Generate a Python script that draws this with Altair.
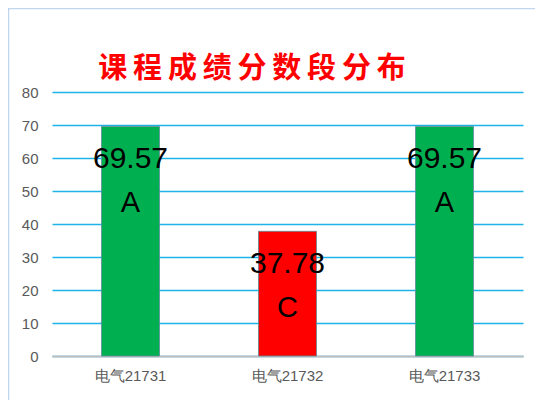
import altair as alt
import pandas as pd

classes = ["电气21731", "电气21732", "电气21733"]
scores = [69.57, 37.78, 69.57]
grades = ["A", "C", "A"]
bar_colors = ["#00B050", "#FF0000", "#00B050"]
y_ticks = [0, 10, 20, 30, 40, 50, 60, 70, 80]
title_text = "课程成绩分数段分布"

df = pd.DataFrame({"cls": classes, "score": scores, "grade": grades, "color": bar_colors})
df["label"] = df["score"].map(lambda v: f"{v:.2f}")

x = alt.X("cls:N", sort=classes, title=None,
          scale=alt.Scale(paddingInner=0, paddingOuter=0),
          axis=alt.Axis(labelAngle=0, labelColor="#595959", labelFontSize=15,
                        labelFont="Liberation Sans", ticks=False,
                        domainColor="#BFBFBF", domainWidth=2, labelPadding=12))
y = alt.Y("score:Q", title=None,
          scale=alt.Scale(domain=[0, 80]),
          axis=alt.Axis(values=y_ticks, labelColor="#595959", labelFontSize=15,
                        labelFont="Liberation Sans", ticks=False, domain=False,
                        labelOverlap=False,
                        gridColor="#1EB4EA", gridWidth=1.5, labelPadding=14))

base = alt.Chart(df)

one = pd.DataFrame({"t": ["\u2009".join(title_text)]})

frame = alt.Chart(one).mark_rect(
    fill=None, stroke="#7FB0E0", strokeDash=[1, 1], strokeWidth=1.5
).encode(x=alt.value(-43.5), x2=alt.value(520), y=alt.value(-83.5), y2=alt.value(330))

title = alt.Chart(one).mark_text(
    color="#FF0000", fontSize=29, font="Noto Sans CJK SC", fontWeight="bold",
    baseline="alphabetic", align="center"
).encode(x=alt.value(200), y=alt.value(-14), text="t:N")

bars = base.mark_bar(size=58, stroke="#5F8C9A", strokeWidth=1, strokeOpacity=0.8).encode(
    x=x, y=y, color=alt.Color("color:N", scale=None)
)

num = base.mark_text(baseline="middle", dy=33, fontSize=30, font="Liberation Sans",
                     color="black").encode(x=x, y=y, text="label:N")
grade = base.mark_text(baseline="middle", dy=77, fontSize=29, font="Liberation Sans",
                       color="black").encode(x=x, y=y, text="grade:N")

chart = alt.layer(frame, bars, num, grade, title).properties(
    width=471, height=264,
    autosize=alt.AutoSizeParams(type="none"),
    padding={"left": 44, "top": 84, "right": 12, "bottom": 50},
).configure_view(stroke=None)

chart.save("out.html", embed_options={"renderer": "svg", "actions": False})
